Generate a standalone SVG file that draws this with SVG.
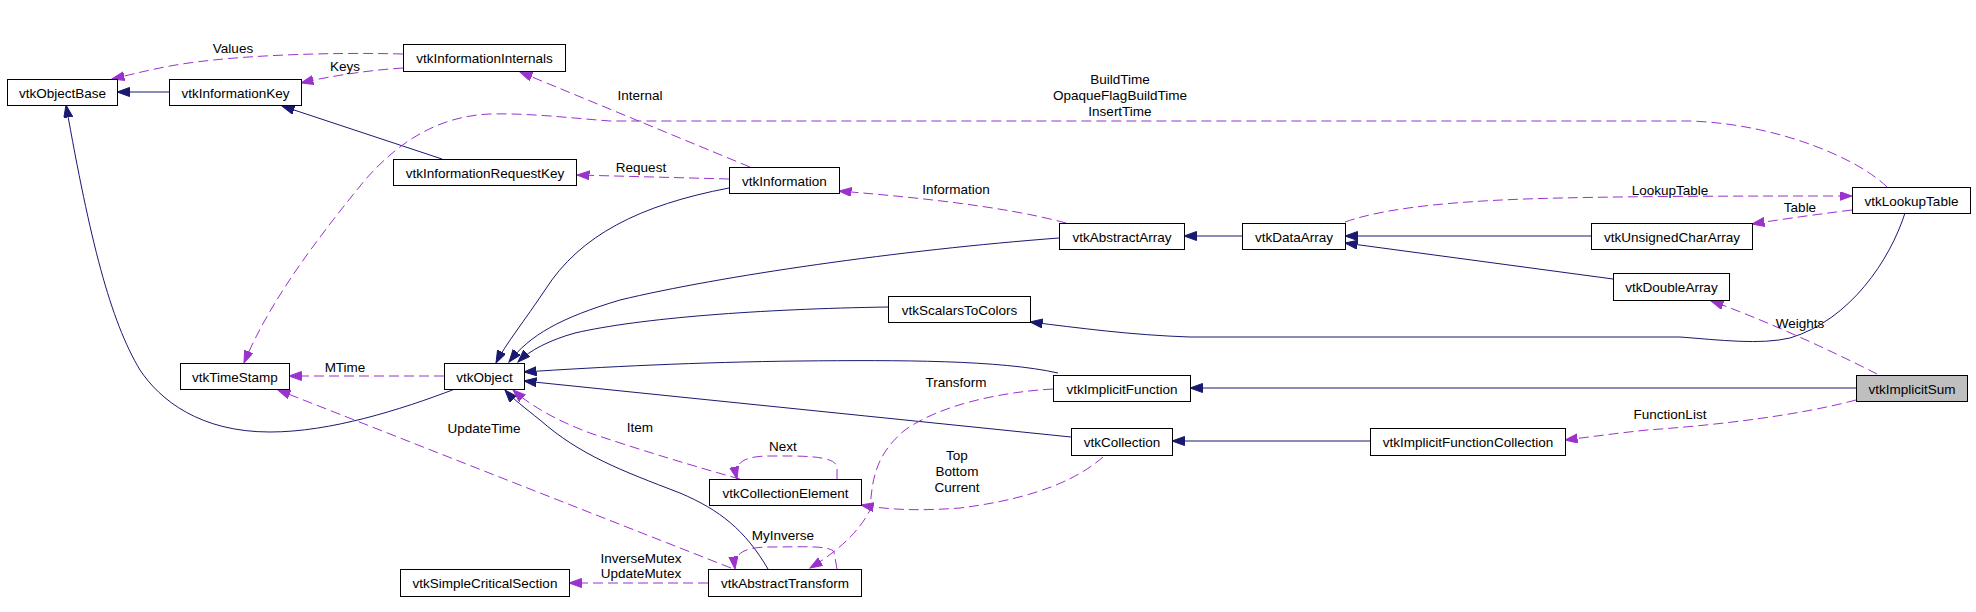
<svg xmlns="http://www.w3.org/2000/svg" width="1976" height="612" viewBox="0 0 1976 612">
<style>
.n rect{fill:#fff;stroke:#000;stroke-width:1}
.n text,.lbl{font-family:"Liberation Sans",Arial,sans-serif;font-size:13.5px;fill:#000;text-anchor:middle}
.inh{fill:none;stroke:#191970;stroke-width:1;marker-end:url(#an)}
.use{fill:none;stroke:#9a32cd;stroke-width:1;stroke-dasharray:10,5;marker-end:url(#ap)}
</style>
<defs>
<marker id="an" markerWidth="14" markerHeight="10" refX="12.5" refY="4.5" orient="auto" markerUnits="userSpaceOnUse"><path d="M0,0 L12.5,4.5 L0,9 z" fill="#191970" stroke="#191970"/></marker>
<marker id="ap" markerWidth="14" markerHeight="10" refX="12.5" refY="4.5" orient="auto" markerUnits="userSpaceOnUse"><path d="M0,0 L12.5,4.5 L0,9 z" fill="#9a32cd" stroke="#9a32cd"/></marker>
</defs>
<rect width="1976" height="612" fill="#fff"/>
<g id="connectors">
<path class="inh" d="M169,92 L117,92"/>
<path class="inh" d="M442,159 L282,106"/>
<path class="inh" d="M455,389 C400,410 330,432 270,432 C200,432 160,400 140,370 C110,320 90,240 66,105"/>
<path class="inh" d="M729,188 C640,205 580,235 545,290 C525,320 505,345 496,363"/>
<path class="inh" d="M1059,238 C900,250 720,276 620,300 C560,318 530,335 509,362"/>
<path class="inh" d="M888,307 C760,309 640,318 575,333 C550,340 530,350 518,362"/>
<path class="inh" d="M1058,373 C1000,360 900,360 800,361 C700,362 600,367 524,372"/>
<path class="inh" d="M1071,437 L524,381"/>
<path class="inh" d="M768,569 C745,530 720,510 680,493 C620,470 580,455 540,420 C525,408 512,398 505,390"/>
<path class="inh" d="M1242,236 L1184,236"/>
<path class="inh" d="M1591,236 L1345,236"/>
<path class="inh" d="M1613,279 L1345,243"/>
<path class="inh" d="M1905,213 C1890,260 1850,320 1790,338 C1760,345 1720,340 1680,337 L1190,337 C1130,335 1080,328 1030,322"/>
<path class="inh" d="M1856,388 L1190,388"/>
<path class="inh" d="M1370,441 L1172,441"/>

<path class="use" d="M403,54 C330,52 220,55 160,68 C140,72 125,76 112,79"/>
<path class="use" d="M403,68 C370,70 330,76 301,83"/>
<path class="use" d="M750,167 L520,72"/>
<path class="use" d="M729,179 L577,175"/>
<path class="use" d="M1066,223 C1000,205 900,196 839,191"/>
<path class="use" d="M1887,187 C1860,160 1780,124 1690,121 L610,121 C570,118 530,113 490,114 C440,116 400,140 365,180 C320,235 270,300 244,363"/>
<path class="use" d="M1345,222 C1390,206 1470,200 1560,198 C1650,196 1760,196 1852,196"/>
<path class="use" d="M1852,210 C1820,214 1790,218 1752,224"/>
<path class="use" d="M1877,374 C1830,350 1760,318 1711,301"/>
<path class="use" d="M1856,400 C1800,415 1720,425 1647,430 C1610,434 1590,437 1565,440"/>
<path class="use" d="M444,376 L289,376"/>
<path class="use" d="M731,568 L278,390"/>
<path class="use" d="M740,479 C700,468 640,450 590,433 C555,420 530,405 513,390"/>
<path class="use" d="M837,479 L837,467 C835,455 800,456 770,456 C745,456 733,462 737,479"/>
<path class="use" d="M1103,457 C1080,477 1040,498 960,508 C920,511 890,510 861,505"/>
<path class="use" d="M1053,389 C1000,392 940,405 905,430 C875,455 872,480 870,510 C860,530 840,550 810,568"/>
<path class="use" d="M837,569 L834,552 C830,545 800,547 770,547 C745,547 733,553 735,569"/>
<path class="use" d="M708,583 L569,583"/>

<text class="lbl" x="233" y="53">Values</text>
<text class="lbl" x="345" y="71">Keys</text>
<text class="lbl" x="640" y="100">Internal</text>
<text class="lbl" x="641" y="172">Request</text>
<text class="lbl" x="956" y="194">Information</text>
<text class="lbl" x="1120" y="84">BuildTime</text>
<text class="lbl" x="1120" y="100">OpaqueFlagBuildTime</text>
<text class="lbl" x="1120" y="116">InsertTime</text>
<text class="lbl" x="1670" y="195">LookupTable</text>
<text class="lbl" x="1800" y="212">Table</text>
<text class="lbl" x="1800" y="328">Weights</text>
<text class="lbl" x="1670" y="419">FunctionList</text>
<text class="lbl" x="345" y="372">MTime</text>
<text class="lbl" x="484" y="433">UpdateTime</text>
<text class="lbl" x="640" y="432">Item</text>
<text class="lbl" x="783" y="451">Next</text>
<text class="lbl" x="957" y="460">Top</text>
<text class="lbl" x="957" y="476">Bottom</text>
<text class="lbl" x="957" y="492">Current</text>
<text class="lbl" x="956" y="387">Transform</text>
<text class="lbl" x="783" y="540">MyInverse</text>
<text class="lbl" x="641" y="563">InverseMutex</text>
<text class="lbl" x="641" y="578">UpdateMutex</text>
</g>

<g id="vtkObjectBase" class="n"><rect x="7.5" y="79.5" width="110" height="26"/><text x="62.5" y="97.5">vtkObjectBase</text></g>
<g id="vtkInformationKey" class="n"><rect x="169.5" y="79.5" width="132" height="26"/><text x="235.5" y="97.5">vtkInformationKey</text></g>
<g id="vtkInformationInternals" class="n"><rect x="403.5" y="44.5" width="162" height="27"/><text x="484.5" y="63">vtkInformationInternals</text></g>
<g id="vtkInformationRequestKey" class="n"><rect x="393.5" y="159.5" width="183" height="26"/><text x="485" y="177.5">vtkInformationRequestKey</text></g>
<g id="vtkInformation" class="n"><rect x="729.5" y="167.5" width="110" height="26"/><text x="784.5" y="185.5">vtkInformation</text></g>
<g id="vtkTimeStamp" class="n"><rect x="180.5" y="363.5" width="109" height="26"/><text x="235" y="381.5">vtkTimeStamp</text></g>
<g id="vtkObject" class="n"><rect x="444.5" y="363.5" width="80" height="26"/><text x="484.5" y="381.5">vtkObject</text></g>
<g id="vtkAbstractArray" class="n"><rect x="1059.5" y="223.5" width="125" height="26"/><text x="1122" y="241.5">vtkAbstractArray</text></g>
<g id="vtkDataArray" class="n"><rect x="1242.5" y="223.5" width="103" height="26"/><text x="1294" y="241.5">vtkDataArray</text></g>
<g id="vtkUnsignedCharArray" class="n"><rect x="1591.5" y="223.5" width="161" height="26"/><text x="1672" y="241.5">vtkUnsignedCharArray</text></g>
<g id="vtkLookupTable" class="n"><rect x="1852.5" y="187.5" width="118" height="26"/><text x="1911.5" y="205.5">vtkLookupTable</text></g>
<g id="vtkDoubleArray" class="n"><rect x="1613.5" y="273.5" width="116" height="27"/><text x="1671.5" y="292">vtkDoubleArray</text></g>
<g id="vtkScalarsToColors" class="n"><rect x="888.5" y="296.5" width="142" height="26"/><text x="959.5" y="314.5">vtkScalarsToColors</text></g>
<g id="vtkImplicitFunction" class="n"><rect x="1053.5" y="375.5" width="137" height="26"/><text x="1122" y="393.5">vtkImplicitFunction</text></g>
<g id="vtkImplicitSum" class="n"><rect x="1856.5" y="375.5" width="111" height="26" style="fill:#bfbfbf"/><text x="1912" y="393.5">vtkImplicitSum</text></g>
<g id="vtkCollection" class="n"><rect x="1071.5" y="428.5" width="101" height="27"/><text x="1122" y="447">vtkCollection</text></g>
<g id="vtkImplicitFunctionCollection" class="n"><rect x="1370.5" y="428.5" width="195" height="27"/><text x="1468" y="447">vtkImplicitFunctionCollection</text></g>
<g id="vtkCollectionElement" class="n"><rect x="709.5" y="479.5" width="152" height="26"/><text x="785.5" y="497.5">vtkCollectionElement</text></g>
<g id="vtkSimpleCriticalSection" class="n"><rect x="400.5" y="569.5" width="169" height="27"/><text x="485" y="588">vtkSimpleCriticalSection</text></g>
<g id="vtkAbstractTransform" class="n"><rect x="708.5" y="569.5" width="153" height="27"/><text x="785" y="588">vtkAbstractTransform</text></g>
</svg>
